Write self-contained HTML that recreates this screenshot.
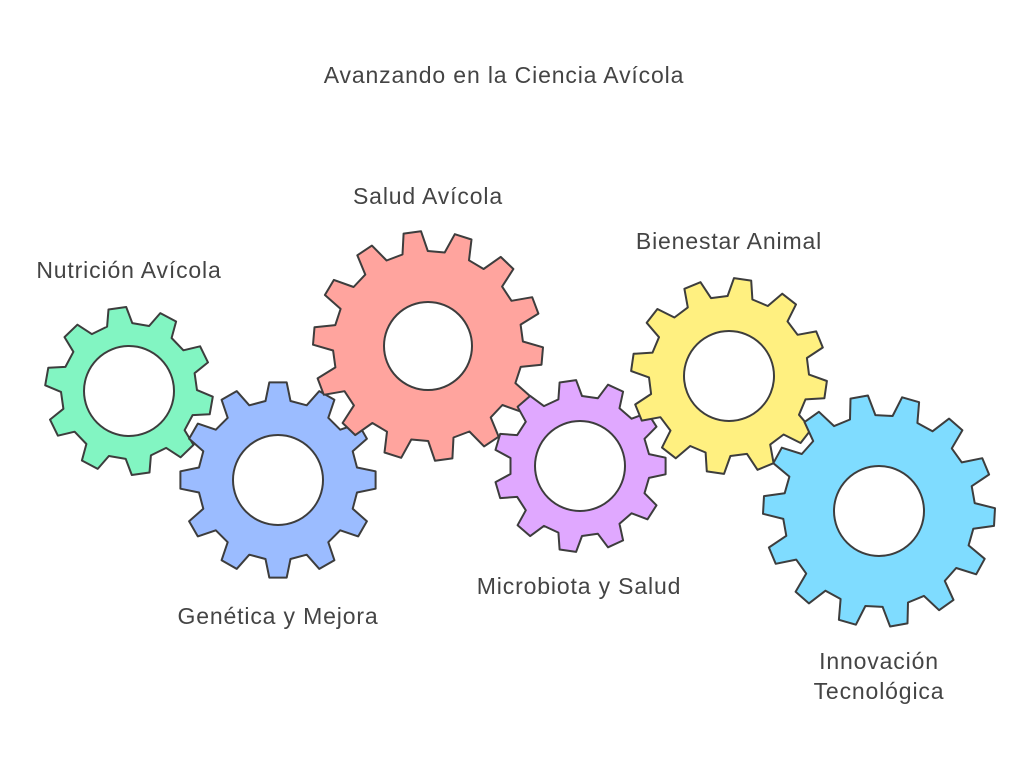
<!DOCTYPE html>
<html><head><meta charset="utf-8">
<style>
html,body{margin:0;padding:0;background:#fff;}
svg{display:block;}
text{font-family:"Liberation Sans",sans-serif;font-size:23px;letter-spacing:0.85px;fill:#444;}
</style></head>
<body>
<svg id="s" width="1025" height="768" viewBox="0 0 1025 768" xmlns="http://www.w3.org/2000/svg">
<g id="gears"></g>
<text x="504" y="83" text-anchor="middle">Avanzando en la Ciencia Avícola</text>
<text x="129" y="278" text-anchor="middle">Nutrición Avícola</text>
<text x="428" y="204" text-anchor="middle">Salud Avícola</text>
<text x="729" y="249" text-anchor="middle">Bienestar Animal</text>
<text x="278" y="624" text-anchor="middle">Genética y Mejora</text>
<text x="579" y="594" text-anchor="middle">Microbiota y Salud</text>
<text x="879" y="669" text-anchor="middle">Innovación</text>
<text x="879" y="699" text-anchor="middle">Tecnológica</text>
</svg>
<script>
var gears=[
 [129,391,84,68,45,10,"#82f5c2",10],
 [278,480,98,80,45,12,"#9bbcff",0],
 [428,346,115,95,44,14,"#ffa49e",5],
 [580,466,86,70,45,11,"#e0a8ff",0],
 [729,376,98,80,45,12,"#fff080",8],
 [879,511,116,96,45,14,"#7fdcff",3]
];
var g=document.getElementById("gears"),h="";
gears.forEach(function(q){
 var cx=q[0],cy=q[1],ro=q[2],ri=q[3],rh=q[4],n=q[5],col=q[6],off=q[7]*Math.PI/180;
 var p=[],step=2*Math.PI/n;
 for(var i=0;i<n;i++){
  var a=off+i*step;
  var f=[[ri,-0.30],[ro,-0.17],[ro,0.17],[ri,0.30]];
  f.forEach(function(t){var ang=a+t[1]*step;p.push((cx+t[0]*Math.cos(ang)).toFixed(1)+","+(cy+t[0]*Math.sin(ang)).toFixed(1));});
 }
 h+='<path d="M'+p.join("L")+'Z M'+(cx+rh)+','+cy+' a'+rh+','+rh+' 0 1,0 '+(-2*rh)+',0 a'+rh+','+rh+' 0 1,0 '+(2*rh)+',0Z" fill="'+col+'" fill-rule="evenodd" stroke="#3d3d3d" stroke-width="2" stroke-linejoin="round"/>';
});
g.innerHTML=h;
</script>
</body></html>
